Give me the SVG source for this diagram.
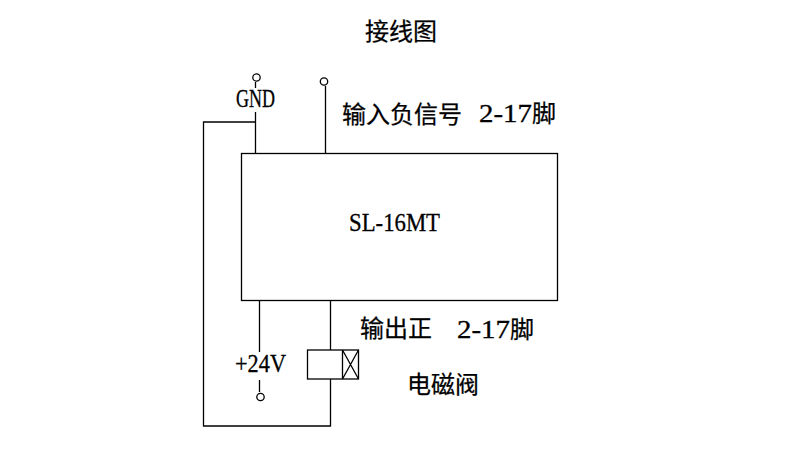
<svg xmlns="http://www.w3.org/2000/svg" width="800" height="450" viewBox="0 0 800 450">
<style>
.w{fill:none;stroke:#000;stroke-width:1.3}
.t{font-family:"Liberation Serif","Noto Sans CJK SC",serif;font-size:25px;fill:#000;stroke:#000;stroke-width:.3}
.c{font-family:"Noto Sans CJK SC","Liberation Serif",serif;font-size:24px;fill:#000;stroke:#000;stroke-width:.25}
</style>
<rect width="800" height="450" fill="#fff"/>
<g id="connectors">
<path class="w" d="M255.500 82V88M255.500 112V153M255.500 122H203.500V426H330.500V379M325.500 86V153M259.500 300V352M259.500 380V392M330.500 300V350"/>
</g>
<g id="terminal-gnd"><circle class="w" cx="256.500" cy="77.500" r="3.700"/><text class="t" x="236" y="107" textLength="39" lengthAdjust="spacingAndGlyphs">GND</text></g>
<g id="terminal-input"><circle class="w" cx="324" cy="81.500" r="3.700"/></g>
<g id="terminal-24v"><circle class="w" cx="260.500" cy="397" r="3.700"/><text class="t" x="235" y="372" textLength="51" lengthAdjust="spacingAndGlyphs">+24V</text></g>
<g id="module"><rect class="w" x="241.500" y="153.500" width="316" height="147"/><text class="t" x="349" y="231" textLength="91" lengthAdjust="spacingAndGlyphs">SL-16MT</text></g>
<g id="valve"><rect class="w" x="307.500" y="350" width="51" height="29"/><path class="w" d="M342.500 350V379M342.500 350L358.500 379M358.500 350L342.500 379"/></g>
<text class="c" x="365" y="40">接线图</text>
<text class="c" x="342" y="123">输入负信号</text>
<text class="t" x="479" y="122" textLength="53" lengthAdjust="spacingAndGlyphs">2-17</text>
<text class="c" x="532" y="122">脚</text>
<text class="c" x="360" y="337">输出正</text>
<text class="t" x="457" y="338" textLength="53" lengthAdjust="spacingAndGlyphs">2-17</text>
<text class="c" x="510" y="338">脚</text>
<text class="c" x="407" y="393">电磁阀</text>
</svg>
